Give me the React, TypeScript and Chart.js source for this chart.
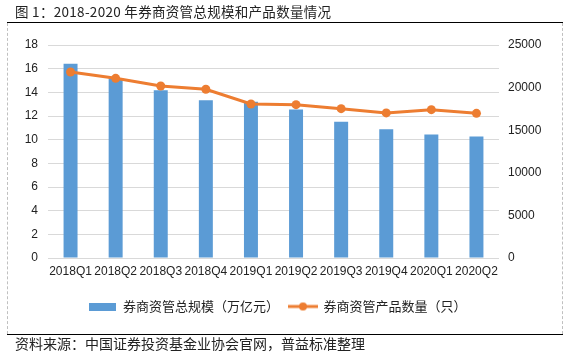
import React, { useEffect, useRef } from "react";
import { Chart, registerables } from "chart.js";

Chart.register(...registerables);

const categories = ["2018Q1", "2018Q2", "2018Q3", "2018Q4", "2019Q1", "2019Q2", "2019Q3", "2019Q4", "2020Q1", "2020Q2"];
const totalScale = [16.42, 15.2, 14.17, 13.33, 13.21, 12.54, 11.52, 10.88, 10.43, 10.26];
const productCount = [21830, 21090, 20190, 19800, 18080, 18000, 17530, 17030, 17410, 16980];
const seriesNames = ["券商资管总规模（万亿元）", "券商资管产品数量（只）"];
const leftAxis = { min: 0, max: 18, step: 2 };
const rightAxis = { min: 0, max: 25000, step: 5000 };
const titleText = "图 1：2018-2020 年券商资管总规模和产品数量情况";
const sourceText = "资料来源：中国证券投资基金业协会官网，普益标准整理";

const BLUE = "#5B9BD5";
const ORANGE = "#ED7D31";
const CJK = '"Noto Sans CJK SC", sans-serif';
const LATIN = '"Liberation Sans", Arial, sans-serif';

function makeBarIcon() {
  const c = document.createElement("canvas");
  c.width = 27;
  c.height = 8;
  const ctx = c.getContext("2d")!;
  ctx.fillStyle = BLUE;
  ctx.fillRect(0, 0, 27, 8);
  return c;
}

function makeLineIcon() {
  const c = document.createElement("canvas");
  c.width = 30;
  c.height = 10;
  const ctx = c.getContext("2d")!;
  ctx.strokeStyle = ORANGE;
  ctx.lineWidth = 3;
  ctx.beginPath();
  ctx.moveTo(0, 5);
  ctx.lineTo(30, 5);
  ctx.stroke();
  ctx.fillStyle = ORANGE;
  ctx.beginPath();
  ctx.arc(15, 5, 4, 0, Math.PI * 2);
  ctx.fill();
  return c;
}

export default function App() {
  const ref = useRef<HTMLCanvasElement | null>(null);

  useEffect(() => {
    if (!ref.current) return;
    const barIcon = makeBarIcon();
    const lineIcon = makeLineIcon();
    const chart = new Chart(ref.current, {
      type: "bar",
      data: {
        labels: categories,
        datasets: [
          {
            type: "bar",
            label: seriesNames[0],
            data: totalScale,
            backgroundColor: BLUE,
            yAxisID: "y",
            barPercentage: 0.31,
            categoryPercentage: 1,
            order: 2,
          },
          {
            type: "line",
            label: seriesNames[1],
            data: productCount,
            borderColor: ORANGE,
            backgroundColor: ORANGE,
            borderWidth: 3,
            pointRadius: 4.5,
            pointBackgroundColor: ORANGE,
            pointBorderColor: ORANGE,
            pointBorderWidth: 0,
            yAxisID: "y1",
            tension: 0,
            order: 1,
          } as any,
        ],
      },
      options: {
        responsive: false,
        animation: false,
        layout: { padding: { top: 45, left: 0, right: 19, bottom: 32 } },
        plugins: {
          tooltip: { enabled: false },
          legend: {
            position: "bottom",
            labels: {
              usePointStyle: true,
              pointStyleWidth: 28,
              boxHeight: 8,
              padding: 10,
              color: "#222",
              font: { family: CJK, size: 13 },
              generateLabels: () => [
                { text: seriesNames[0], pointStyle: barIcon as any, fillStyle: BLUE, strokeStyle: BLUE, lineWidth: 0, datasetIndex: 0, hidden: false, fontColor: "#222" },
                { text: seriesNames[1], pointStyle: lineIcon as any, fillStyle: ORANGE, strokeStyle: ORANGE, lineWidth: 0, datasetIndex: 1, hidden: false, fontColor: "#222" },
              ],
            },
          },
        },
        scales: {
          x: {
            grid: { display: false, drawTicks: false },
            border: { display: false },
            ticks: { color: "#222", font: { family: LATIN, size: 12 }, padding: 6, maxRotation: 0, autoSkip: false },
            afterFit: (s: any) => { s.height = 32; },
          },
          y: {
            position: "left",
            min: leftAxis.min,
            max: leftAxis.max,
            ticks: { stepSize: leftAxis.step, padding: 10, color: "#222", font: { family: LATIN, size: 12 } },
            grid: { color: "#d9d9d9", drawTicks: false, lineWidth: 1 },
            border: { display: false },
            afterFit: (s: any) => { s.width = 48; },
          },
          y1: {
            position: "right",
            min: rightAxis.min,
            max: rightAxis.max,
            ticks: { stepSize: rightAxis.step, padding: 9, color: "#222", font: { family: LATIN, size: 12 }, callback: (v: any) => String(v) },
            grid: { display: false, drawTicks: false },
            border: { display: false },
            afterFit: (s: any) => { s.width = 56; },
          },
        },
      } as any,
    });
    return () => chart.destroy();
  }, []);

  return (
    <div style={{ position: "absolute", left: 0, top: 0, width: 574, height: 355, background: "#fff", overflow: "hidden" }}>
      <canvas ref={ref} width={574} height={355} style={{ position: "absolute", left: 0, top: 0, width: 574, height: 355 }} />
      <div style={{ position: "absolute", left: 15, top: 3, fontFamily: CJK, fontSize: 13.5, lineHeight: "16px", color: "#222", whiteSpace: "nowrap", letterSpacing: "0.3px" }}>{titleText}</div>
      <div style={{ position: "absolute", left: 7, top: 22, width: 556, height: 1, background: "#000" }} />
      <div style={{ position: "absolute", left: 7, top: 23, height: 311, borderLeft: "1px dashed #c0c0c0" }} />
      <div style={{ position: "absolute", left: 562, top: 23, height: 311, borderLeft: "1px dashed #c0c0c0" }} />
      <div style={{ position: "absolute", left: 7, top: 334, width: 556, height: 1, background: "#000" }} />
      <div style={{ position: "absolute", left: 15, top: 335, fontFamily: CJK, fontSize: 14, lineHeight: "16px", color: "#222", whiteSpace: "nowrap" }}>{sourceText}</div>
    </div>
  );
}
